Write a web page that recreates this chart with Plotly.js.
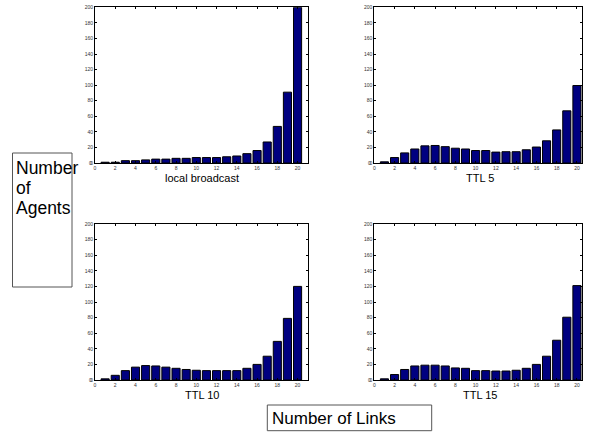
<!DOCTYPE html>
<html>
<head>
<meta charset="utf-8">
<script src="https://cdn.plot.ly/plotly-3.0.1.min.js"></script>
<style>html,body{margin:0;padding:0;background:#fff;}#chart{width:589px;height:432px;}</style>
</head>
<body>
<div id="chart"></div>
<script>
const links = [1,2,3,4,5,6,7,8,9,10,11,12,13,14,15,16,17,18,19,20];
const localBroadcast = [1,1,3,3,4,5,5,6,6,7,7,7,8,9,12,16,27,47,91,200];
const ttl5  = [1.5,7,13,18,22,22.5,21,19,18,16,16,14,14.5,14.5,17,20.5,28.5,42.5,67,99.5];
const ttl10 = [1.5,6,12,16.5,18.5,18,16.5,15,13.5,12.5,12,12,12,12,15,20,30.5,49.5,79,120];
const ttl15 = [1.5,7,13.5,18,19,19,18,15.5,15,12,12,11.5,11.5,12.5,15,20,30.5,51,80.5,121];
const panelTitles = ["local broadcast","TTL 5","TTL 10","TTL 15"];
const xTicks = [0,2,4,6,8,10,12,14,16,18,20];
const yTicks = [0,20,40,60,80,100,120,140,160,180,200];

const W = 589, H = 432;
const px = v => v / W;
const py = v => 1 - v / H;

const series = [localBroadcast, ttl5, ttl10, ttl15];
const axes = [["x","y"],["x2","y2"],["x3","y3"],["x4","y4"]];
const traces = series.map((s,i) => ({
  type: "bar", x: links, y: s, xaxis: axes[i][0], yaxis: axes[i][1],
  width: 0.8,
  marker: {color: "#000080", line: {color: "#000000", width: 1}},
  hoverinfo: "x+y", showlegend: false
}));

const tickFont = {family: "Liberation Sans, Arial, sans-serif", size: 5, color: "#333"};
function xa(dom, anchor, rmax) {
  return {domain: dom, anchor: anchor, range: [0, rmax], tickvals: xTicks, ticks: "inside",
    ticklen: 2, tickcolor: "#000", showline: true, linecolor: "#000", linewidth: 1, mirror: "ticks",
    showgrid: false, zeroline: false, tickfont: tickFont, fixedrange: true};
}
function ya(dom, anchor) {
  return {domain: dom, anchor: anchor, range: [0, 200], tickvals: yTicks, ticks: "inside",
    ticklen: 2, tickcolor: "#000", showline: true, linecolor: "#000", linewidth: 1, mirror: "ticks",
    showgrid: false, zeroline: false, tickfont: tickFont, fixedrange: true};
}
const xL = [px(95), px(307.7)], xR = [px(374.3), px(582)];
const yT = [py(163), py(7.3)], yB = [py(380), py(224)];

const titleFont = {family: "Liberation Sans, Arial, sans-serif", size: 11, color: "#000"};
const bigFont = {family: "Liberation Sans, Arial, sans-serif", size: 17.5, color: "#000"};

const annotations = [
  {text: panelTitles[0], xref: "paper", yref: "paper", x: px(201.5), y: py(177.5), showarrow: false, font: titleFont, xanchor: "center", yanchor: "middle"},
  {text: panelTitles[1], xref: "paper", yref: "paper", x: px(480), y: py(177.5), showarrow: false, font: titleFont, xanchor: "center", yanchor: "middle"},
  {text: panelTitles[2], xref: "paper", yref: "paper", x: px(201.5), y: py(394.5), showarrow: false, font: titleFont, xanchor: "center", yanchor: "middle"},
  {text: panelTitles[3], xref: "paper", yref: "paper", x: px(480), y: py(394.5), showarrow: false, font: titleFont, xanchor: "center", yanchor: "middle"},
  {text: "Number", xref: "paper", yref: "paper", x: px(14), y: py(168), showarrow: false, font: bigFont, xanchor: "left", yanchor: "middle"},
  {text: "of", xref: "paper", yref: "paper", x: px(14), y: py(188), showarrow: false, font: bigFont, xanchor: "left", yanchor: "middle"},
  {text: "Agents", xref: "paper", yref: "paper", x: px(14), y: py(208), showarrow: false, font: bigFont, xanchor: "left", yanchor: "middle"},
  {text: "Number of Links", xref: "paper", yref: "paper", x: px(270), y: py(418.5), showarrow: false, font: {family: "Liberation Sans, Arial, sans-serif", size: 17, color: "#000"}, xanchor: "left", yanchor: "middle"}
];
// y-axis "0" tick labels at each axes corner
axes.forEach(a => annotations.push({text: String(yTicks[0]), xref: a[0] + " domain", yref: a[1] + " domain", x: 0, y: 0,
  xanchor: "right", yanchor: "middle", xshift: -1, showarrow: false, font: tickFont}));

const layout = {
  width: W, height: H, margin: {l:0,r:0,t:0,b:0}, paper_bgcolor: "#fff", plot_bgcolor: "#fff",
  showlegend: false, bargap: 0,
  xaxis: xa(xL, "y", 21), yaxis: ya(yT, "x"),
  xaxis2: xa(xR, "y2", 20.5), yaxis2: ya(yT, "x2"),
  xaxis3: xa(xL, "y3", 21), yaxis3: ya(yB, "x3"),
  xaxis4: xa(xR, "y4", 20.5), yaxis4: ya(yB, "x4"),
  shapes: [
    {type: "rect", xref: "paper", yref: "paper", x0: px(12.5), x1: px(72), y0: py(287), y1: py(153),
     line: {color: "#555", width: 1}},
    {type: "rect", xref: "paper", yref: "paper", x0: px(267.3), x1: px(431.7), y0: py(430.7), y1: py(405),
     line: {color: "#555", width: 1}}
  ],
  annotations: annotations
};
Plotly.newPlot("chart", traces, layout, {displayModeBar: false, staticPlot: true});
</script>
</body>
</html>
